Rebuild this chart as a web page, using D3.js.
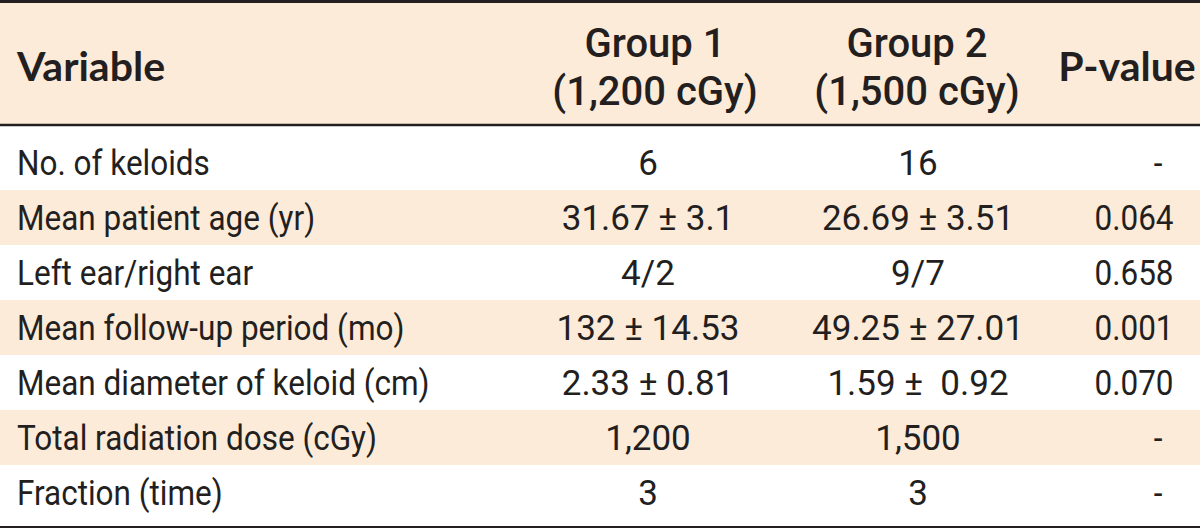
<!DOCTYPE html>
<html>
<head>
<meta charset="utf-8">
<script src="https://cdn.jsdelivr.net/npm/d3@7"></script>
<style>
  body { margin: 0; background: #fff; }
  svg { display: block; }
</style>
</head>
<body>
<svg id="chart" width="1200" height="529"></svg>
<script>
// table content
var variables = ["No. of keloids", "Mean patient age (yr)", "Left ear/right ear",
  "Mean follow-up period (mo)", "Mean diameter of keloid (cm)",
  "Total radiation dose (cGy)", "Fraction (time)"];
var group1 = ["6", "31.67 \u00b1 3.1", "4/2", "132 \u00b1 14.53", "2.33 \u00b1 0.81", "1,200", "3"];
var group2 = ["16", "26.69 \u00b1 3.51", "9/7", "49.25 \u00b1 27.01", "1.59 \u00b1  0.92", "1,500", "3"];
var pvalues = ["-", "0.064", "0.658", "0.001", "0.070", "-", "-"];
var headers = [["Variable"], ["Group 1", "(1,200 cGy)"], ["Group 2", "(1,500 cGy)"], ["P-value"]];

var svg = d3.select("#chart"),
    width = +svg.attr("width"),
    height = +svg.attr("height");

var cream = "#fdebd9", ink = "#231f20";
var bodyFont = "Roboto, 'DejaVu Sans', sans-serif";

var headTop = 2, headBottom = 125, tableBottom = 526;

// row bands
var rowY = d3.scaleBand()
    .domain(d3.range(variables.length))
    .range([headBottom + 10, tableBottom - 6]);

// column anchors, and how much each column's face is narrowed
var colX = [17, 648, 918, 1134];
var colSqueeze = [0.9, 1, 1, 0.9];

svg.append("rect")
    .attr("x", 0).attr("y", headTop)
    .attr("width", width).attr("height", headBottom - headTop)
    .attr("fill", cream);

var rows = svg.append("g").selectAll("g")
  .data(variables)
  .enter().append("g")
    .attr("transform", function(d, i) { return "translate(0," + rowY(i) + ")"; });

rows.append("rect")
    .attr("x", 0)
    .attr("y", function(d, i) { return i == 0 ? -10 : 0; })
    .attr("width", width)
    .attr("height", function(d, i) { return rowY.bandwidth() + (i == 0 ? 10 : 0) + (i == variables.length - 1 ? 6 : 0); })
    .attr("fill", function(d, i) { return i % 2 == 1 ? cream : "#fff"; });

function cell(sel, col, accessor, anchor) {
  sel.append("text")
      .attr("transform", function(d, i) {
        var v = accessor(d, i);
        var x = (col == 3 && v == "-") ? colX[col] + 24 : colX[col];
        return "translate(" + x + "," + (rowY.bandwidth() / 2) + ") scale(" + colSqueeze[col] + ",1)";
      })
      .attr("dy", "0.36em")
      .attr("text-anchor", anchor)
      .attr("font-family", bodyFont)
      .attr("font-size", 35)
      .attr("fill", ink)
      .style("white-space", "pre")
      .text(accessor);
}

cell(rows, 0, function(d) { return d; }, "start");
cell(rows, 1, function(d, i) { return group1[i]; }, "middle");
cell(rows, 2, function(d, i) { return group2[i]; }, "middle");
cell(rows, 3, function(d, i) { return pvalues[i]; }, "middle");

// header text
var headMid = (headTop + headBottom) / 2 + 3;
var headX = [17, 655, 917, 1127];
headers.forEach(function(lines, c) {
  var wide = (c == 0 || c == 3);
  var t = svg.append("text")
      .attr("x", headX[c])
      .attr("text-anchor", c == 0 ? "start" : "middle")
      .attr("font-family", wide ? "Lato, 'Open Sans', sans-serif" : bodyFont)
      .attr("font-weight", wide ? "bold" : 500)
      .attr("font-size", wide ? 41 : 40)
      .attr("fill", ink);
  lines.forEach(function(l, k) {
    t.append("tspan")
        .attr("x", headX[c])
        .attr("y", headMid + (k - (lines.length - 1) / 2) * 48)
        .attr("dy", "0.36em")
        .text(l);
  });
});

// rules
svg.append("line").attr("x1", 0).attr("x2", width).attr("y1", 1.5).attr("y2", 1.5)
    .attr("stroke", ink).attr("stroke-width", 3);
svg.append("line").attr("x1", 0).attr("x2", width).attr("y1", headBottom).attr("y2", headBottom)
    .attr("stroke", ink).attr("stroke-width", 2.5);
svg.append("line").attr("x1", 0).attr("x2", width).attr("y1", tableBottom + 1).attr("y2", tableBottom + 1)
    .attr("stroke", ink).attr("stroke-width", 2);
</script>
</body>
</html>
